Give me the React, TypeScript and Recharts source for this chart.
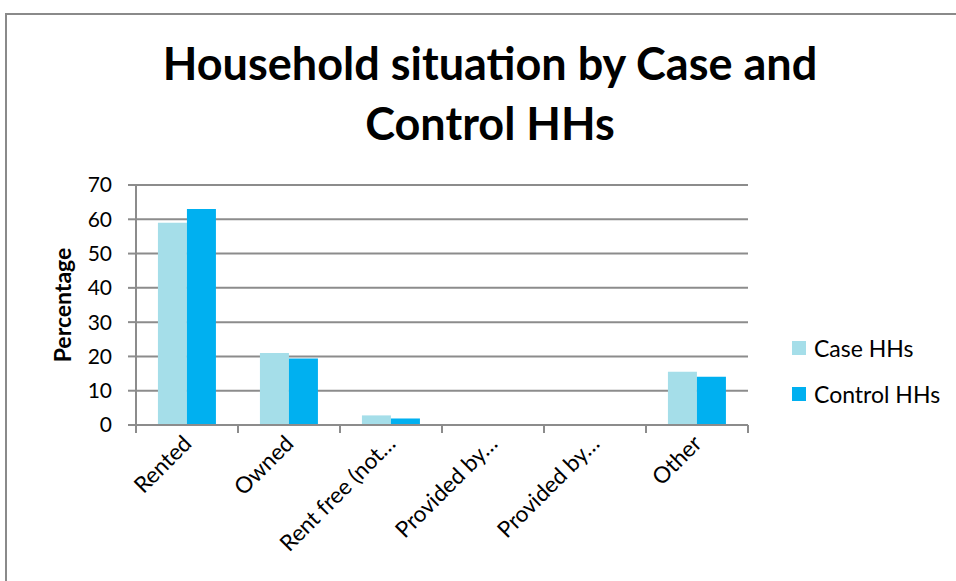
import { BarChart, Bar, XAxis, YAxis, CartesianGrid } from 'recharts';

const categories = ['Rented', 'Owned', 'Rent free (not…', 'Provided by…', 'Provided by…', 'Other'];
const caseHHs = [59, 21, 2.8, 0, 0, 15.5];
const controlHHs = [63, 19.4, 1.9, 0, 0, 14.1];
const yTicks = [0, 10, 20, 30, 40, 50, 60, 70];

const CASE_COLOR = '#a5dee9';
const CONTROL_COLOR = '#00b0f0';
const AXIS_GREY = '#8c8c8c';
const FONT = 'Lato, "Open Sans", sans-serif';
const HALF_BAND = 51;

const data = categories.map((name, i) => ({
  name,
  caseHHs: caseHHs[i],
  controlHHs: controlHHs[i],
}));

function CategoryTick(props: any) {
  const { x, y, payload, index } = props;
  const last = index === categories.length - 1;
  return (
    <g>
      <line x1={x - HALF_BAND} y1={y - 8} x2={x - HALF_BAND} y2={y} stroke={AXIS_GREY} strokeWidth={2} />
      {last && (
        <line x1={x + HALF_BAND} y1={y - 8} x2={x + HALF_BAND} y2={y} stroke={AXIS_GREY} strokeWidth={2} />
      )}
      <text
        x={x + 6}
        y={y + 12}
        textAnchor="end"
        transform={`rotate(-45 ${x + 6} ${y + 12})`}
        fontSize={22.5}
        fontFamily={FONT}
        fill="#000"
      >
        {payload.value}
      </text>
    </g>
  );
}

function LegendBox() {
  const items = [
    { label: 'Case HHs', color: CASE_COLOR },
    { label: 'Control HHs', color: CONTROL_COLOR },
  ];
  return (
    <div style={{ fontFamily: FONT, fontSize: 23, color: '#000' }}>
      {items.map((it, i) => (
        <div key={it.label} style={{ display: 'flex', alignItems: 'center', marginTop: i ? 20 : 0, height: 26 }}>
          <span style={{ width: 14, height: 14, background: it.color, marginRight: 8, display: 'inline-block' }} />
          {it.label}
        </div>
      ))}
    </div>
  );
}

export default function App() {
  return (
    <div style={{ position: 'absolute', left: 0, top: 0, width: 956, height: 581, overflow: 'hidden', background: '#fff' }}>
      <div
        style={{
          position: 'absolute',
          left: 5,
          top: 13,
          width: 1000,
          height: 700,
          border: '2px solid #8a8a8a',
        }}
      />
      <div
        style={{
          position: 'absolute',
          left: 0,
          width: 980,
          top: 33,
          textAlign: 'center',
          fontFamily: FONT,
          fontWeight: 700,
          fontSize: 45,
          lineHeight: '60px',
          color: '#000',
        }}
      >
        Household situation by Case and
        <br />
        Control HHs
      </div>
      <div
        style={{
          position: 'absolute',
          left: 62,
          top: 305,
          transform: 'translate(-50%, -50%) rotate(-90deg)',
          fontFamily: FONT,
          fontWeight: 700,
          fontSize: 23,
          whiteSpace: 'nowrap',
        }}
      >
        Percentage
      </div>
      <div style={{ position: 'absolute', left: 0, top: 0 }}>
        <BarChart
          width={956}
          height={581}
          data={data}
          margin={{ top: 185, right: 208, bottom: 6, left: 76 }}
          barCategoryGap="21.5%"
          barGap={0}
        >
          <CartesianGrid vertical={false} stroke={AXIS_GREY} strokeWidth={2} />
          <XAxis
            dataKey="name"
            height={150}
            interval={0}
            tickLine={false}
            axisLine={{ stroke: AXIS_GREY, strokeWidth: 2 }}
            tick={<CategoryTick />}
          />
          <YAxis
            width={60}
            domain={[0, 70]}
            ticks={yTicks}
            tickSize={8}
            tickLine={{ stroke: AXIS_GREY, strokeWidth: 2 }}
            axisLine={{ stroke: AXIS_GREY, strokeWidth: 2 }}
            tick={{ fontSize: 21, fontFamily: FONT, fill: '#000' }}
            tickMargin={16}
          />
          <Bar dataKey="caseHHs" name="Case HHs" fill={CASE_COLOR} isAnimationActive={false} />
          <Bar dataKey="controlHHs" name="Control HHs" fill={CONTROL_COLOR} isAnimationActive={false} />
        </BarChart>
      </div>
      <div style={{ position: 'absolute', left: 792, top: 335 }}>
        <LegendBox />
      </div>
    </div>
  );
}
